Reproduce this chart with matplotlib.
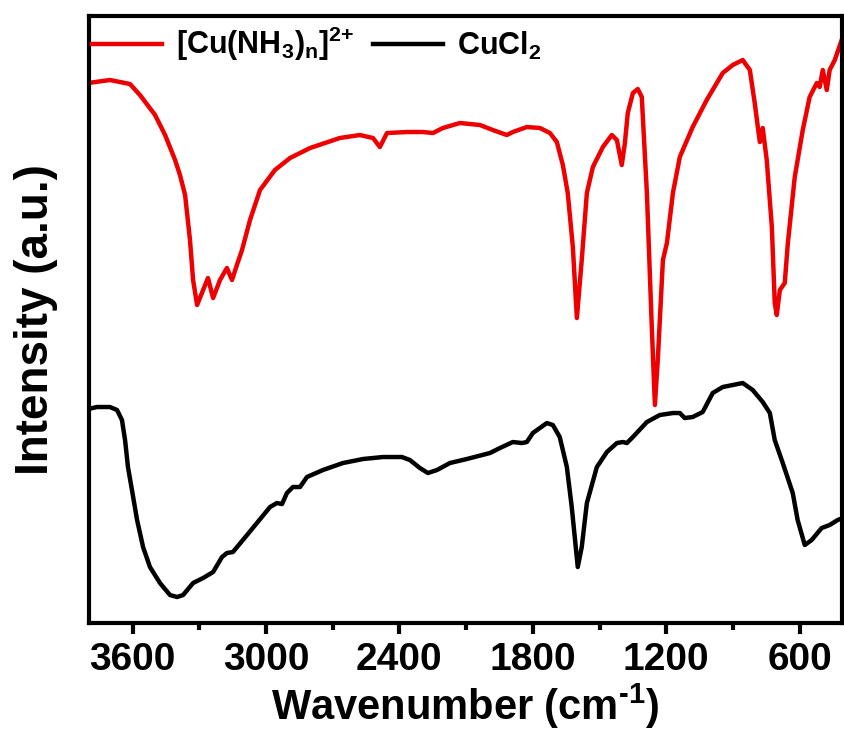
import matplotlib
matplotlib.use('Agg')
import matplotlib.pyplot as plt
from matplotlib.ticker import MultipleLocator

plt.rcParams['font.family'] = ['Liberation Sans', 'DejaVu Sans']
plt.rcParams['font.weight'] = 'bold'
plt.rcParams['mathtext.fontset'] = 'custom'
plt.rcParams['mathtext.rm'] = 'Liberation Sans:bold'
plt.rcParams['mathtext.bf'] = 'Liberation Sans:bold'
plt.rcParams['mathtext.default'] = 'bf'

# FTIR spectra (wavenumber in cm-1, intensity in a.u.)
wn_complex = [3800, 3702, 3612, 3567, 3499, 3454, 3409, 3387, 3364, 3342, 3328, 3310,
              3283, 3261, 3238, 3207, 3176, 3153, 3131, 3108, 3072, 3027, 2960, 2892,
              2802, 2668, 2578, 2519, 2488, 2456, 2366, 2294, 2249, 2205, 2128, 2038,
              1980, 1917, 1890, 1827, 1768, 1723, 1692, 1665, 1643, 1620, 1602, 1580,
              1557, 1530, 1485, 1445, 1422, 1400, 1386, 1373, 1350, 1328, 1310, 1287,
              1265, 1251, 1238, 1215, 1197, 1170, 1139, 1081, 1018, 946, 901, 856,
              824, 802, 788, 779, 766, 748, 725, 712, 703, 689, 667, 653, 622, 586,
              555, 523, 510, 496, 478, 465, 442, 411]
int_complex = [540, 543, 539, 528, 508, 488, 463, 448, 428, 383, 343, 318,
               333, 345, 325, 343, 355, 343, 358, 373, 403, 433, 453, 465,
               475, 485, 488, 485, 476, 490, 491, 491, 490, 495, 500, 498,
               493, 488, 491, 496, 495, 490, 481, 458, 430, 376, 305, 363,
               430, 456, 476, 488, 483, 458, 480, 510, 530, 534, 526, 430,
               296, 218, 263, 363, 380, 430, 466, 496, 523, 550, 558, 563,
               553, 520, 496, 481, 495, 463, 396, 320, 308, 333, 340, 380, 446, 493,
               526, 540, 536, 553, 533, 553, 563, 583]

wn_cucl2 = [3800, 3760, 3702, 3670, 3648, 3634, 3621, 3603, 3580, 3553, 3522, 3477,
            3432, 3400, 3373, 3328, 3283, 3238, 3198, 3176, 3149, 3104, 3041, 2982,
            2951, 2928, 2906, 2879, 2847, 2816, 2744, 2654, 2564, 2474, 2389, 2353,
            2308, 2272, 2231, 2173, 2097, 1993, 1948, 1890, 1849, 1827, 1800, 1737,
            1710, 1679, 1647, 1625, 1607, 1598, 1580, 1557, 1512, 1467, 1422, 1395,
            1377, 1350, 1287, 1229, 1170, 1139, 1117, 1081, 1036, 991, 946, 901,
            856, 811, 766, 734, 712, 676, 631, 609, 577, 546, 501, 465, 429, 406]
int_cucl2 = [214, 216, 216, 213, 203, 183, 156, 133, 103, 76, 56, 40,
             28, 26, 28, 40, 45, 51, 66, 70, 71, 83, 100, 116,
             120, 119, 130, 136, 136, 146, 153, 160, 164, 166, 166, 163,
             155, 150, 153, 160, 164, 170, 175, 181, 180, 181, 190, 200,
             198, 186, 156, 116, 76, 56, 76, 120, 156, 171, 180, 181,
             180, 186, 201, 208, 210, 210, 205, 206, 211, 230, 236, 238,
             240, 233, 221, 210, 183, 160, 130, 103, 78, 83, 95, 98, 103, 105]

x_ticks = [3600, 3000, 2400, 1800, 1200, 600]

fig = plt.figure(figsize=(8.44, 7.38), dpi=100)
ax = fig.add_axes([0.1055, 0.1558, 0.892, 0.8225])

ax.plot(wn_complex, int_complex, color='#ee0000', lw=3.2, solid_joinstyle='round',
        label=r'[Cu(NH$_3$)$_n$]$^{2{+}}$')
ax.plot(wn_cucl2, int_cucl2, color='black', lw=3.2, solid_joinstyle='round',
        label=r'CuCl$_2$')

ax.set_xlim(3796, 410)
ax.set_ylim(0, 607)
ax.set_xticks(x_ticks)
ax.xaxis.set_minor_locator(MultipleLocator(300))
ax.set_yticks([])
ax.tick_params(axis='x', which='major', direction='out', length=8, width=3,
               labelsize=28, pad=6)
ax.tick_params(axis='x', which='minor', direction='out', length=5, width=3)
for lab in ax.get_xticklabels():
    lab.set_fontweight('bold')
for sp in ax.spines.values():
    sp.set_linewidth(3)

ax.set_xlabel(r'Wavenumber (cm$^{\text{-}1}$)', fontsize=30, fontweight='bold', labelpad=2)
ax.set_ylabel('Intensity (a.u.)', fontsize=33, fontweight='bold', labelpad=22)

leg = ax.legend(loc='upper left', ncol=2, frameon=False, fontsize=22,
                handlelength=2.3, handletextpad=0.45, columnspacing=0.6,
                borderaxespad=0.0, borderpad=0.1, bbox_to_anchor=(0.0, 0.99))
for t in leg.get_texts():
    t.set_fontweight('bold')

fig.savefig('out.png', dpi=100)
